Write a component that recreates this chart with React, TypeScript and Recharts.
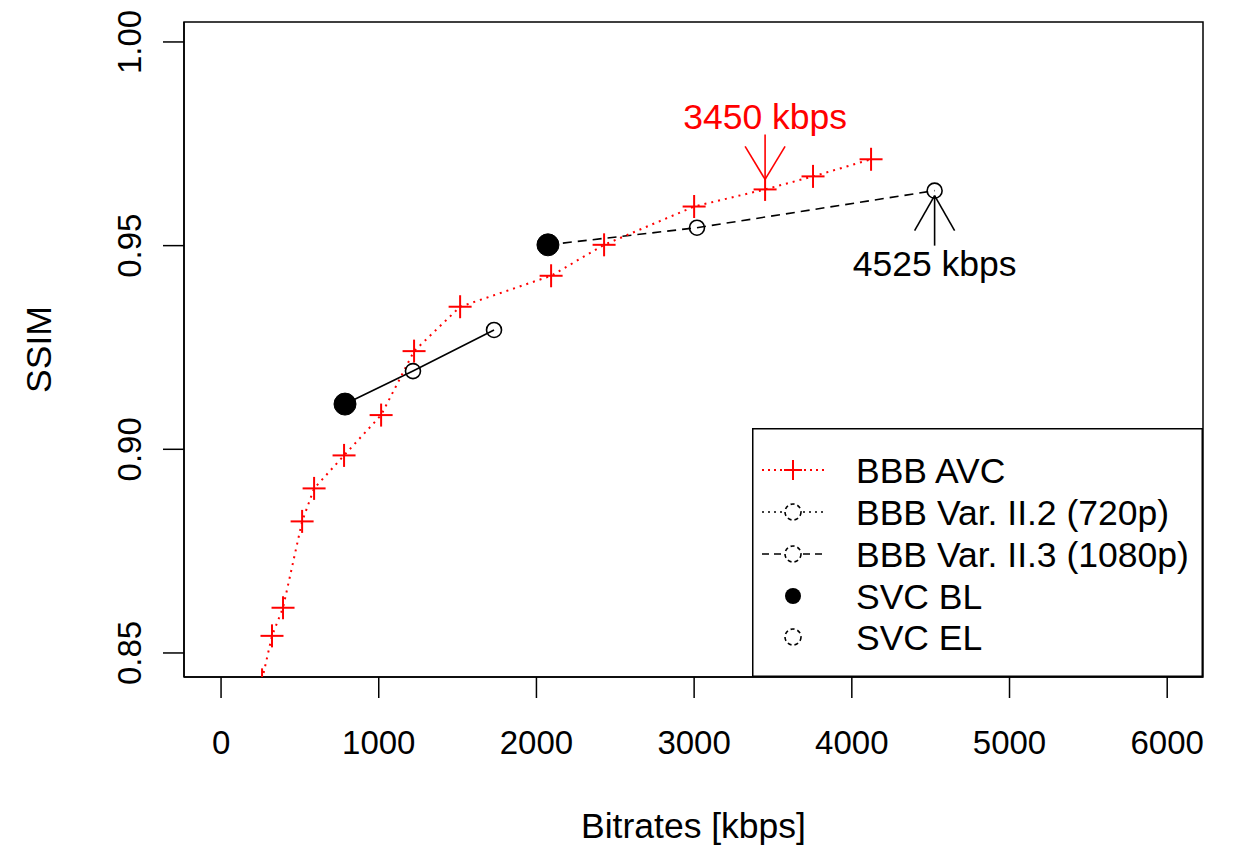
import React from 'react';
import { ComposedChart, Line, XAxis, YAxis, ReferenceDot, ReferenceArea, Legend, Label } from 'recharts';

// ---------- data ----------
const avcBitrates = [260, 323, 393, 514, 590, 780, 1015, 1224, 1516, 2093, 2429, 3000, 3450, 3754, 4122];
const avcSsim = [0.8434, 0.8542, 0.8611, 0.8823, 0.8904, 0.8985, 0.9084, 0.9241, 0.935, 0.9426, 0.9502, 0.9596, 0.9638, 0.967, 0.9712];

const var720Bitrates = [786, 1217, 1731];
const var720Ssim = [0.9111, 0.9192, 0.9293];

const var1080Bitrates = [2073, 3018, 4525];
const var1080Ssim = [0.9502, 0.9544, 0.9635];

const svcBlBitrates = [786, 2073];
const svcBlSsim = [0.9111, 0.9502];

const svcElBitrates = [1217, 1731, 3018, 4525];
const svcElSsim = [0.9192, 0.9293, 0.9544, 0.9635];

const xTicks = [0, 1000, 2000, 3000, 4000, 5000, 6000];
const yTicks = [0.85, 0.9, 0.95, 1.0];
const yTickLabels = ['0.85', '0.90', '0.95', '1.00'];

const legendLabels = ['BBB AVC', 'BBB Var. II.2 (720p)', 'BBB Var. II.3 (1080p)', 'SVC BL', 'SVC EL'];

const annotations = [
  { x: 3450, y: 0.9638, text: '3450 kbps', color: '#ff0000', side: 'above' },
  { x: 4525, y: 0.9635, text: '4525 kbps', color: '#000000', side: 'below' },
];

const X_DOMAIN: [number, number] = [-235, 6227];
const Y_DOMAIN: [number, number] = [0.8441, 1.0049];

const zip = (xs: number[], ys: number[]) => xs.map((x, i) => ({ x, y: ys[i] }));
const avcData = zip(avcBitrates, avcSsim);
const var720Data = zip(var720Bitrates, var720Ssim);
const var1080Data = zip(var1080Bitrates, var1080Ssim);
const svcBlData = zip(svcBlBitrates, svcBlSsim);
const svcElData = zip(svcElBitrates, svcElSsim);

// ---------- style ----------
const FONT = '"Liberation Sans", Arial, Helvetica, sans-serif';
const FS_TICK = 33;
const FS = 35.5;
const RED = '#ff0000';

const CrossDot = (props: any) => {
  const { cx, cy, index } = props;
  if (cx == null || cy == null) return <g key={`c${index}`} />;
  const a = 11.5;
  return (
    <g key={`c${index}`}>
      <line x1={cx - a} y1={cy} x2={cx + a} y2={cy} stroke={RED} strokeWidth={2} />
      <line x1={cx} y1={cy - a} x2={cx} y2={cy + a} stroke={RED} strokeWidth={2} />
    </g>
  );
};

const BlDot = (props: any) => {
  const { cx, cy, index } = props;
  if (cx == null || cy == null) return <g key={`b${index}`} />;
  return <circle key={`b${index}`} cx={cx} cy={cy} r={11} fill="#000" stroke="#000" strokeWidth={1} />;
};

const ElDot = (props: any) => {
  const { cx, cy, index } = props;
  if (cx == null || cy == null) return <g key={`e${index}`} />;
  return <circle key={`e${index}`} cx={cx} cy={cy} r={7.5} fill="none" stroke="#000" strokeWidth={1.6} />;
};

const YTick = (props: any) => {
  const { y, payload } = props;
  const i = yTicks.indexOf(payload.value);
  const label = i >= 0 ? yTickLabels[i] : String(payload.value);
  const bx = 141;
  return (
    <text x={bx} y={y} transform={`rotate(-90 ${bx} ${y})`} textAnchor="middle" fontSize={FS_TICK} fontFamily={FONT} fill="#000">
      {label}
    </text>
  );
};

const AnnotationShape = (ann: any) => (props: any) => {
  const { cx, cy } = props;
  if (cx == null || cy == null) return <g />;
  const above = ann.side === 'above';
  const s = above ? -1 : 1;
  const tip = cy + s * (above ? 10 : 5);
  const tail = cy + s * 55;
  const head = cy + s * (above ? 43 : 40);
  const textY = above ? cy - 60 : cy + 85;
  return (
    <g>
      <line x1={cx} y1={tip} x2={cx} y2={tail} stroke={ann.color} strokeWidth={1.6} />
      <line x1={cx} y1={tip} x2={cx - 20} y2={head} stroke={ann.color} strokeWidth={1.6} />
      <line x1={cx} y1={tip} x2={cx + 20} y2={head} stroke={ann.color} strokeWidth={1.6} />
      <text x={cx} y={textY} textAnchor="middle" fontSize={FS} fontFamily={FONT} fill={ann.color}>
        {ann.text}
      </text>
    </g>
  );
};

const LegendBox = () => {
  const rows = [42, 84, 126, 168, 209];
  const sx = 41;
  return (
    <svg width={451} height={249} style={{ display: 'block' }}>
      <rect x={0.75} y={0.75} width={449.5} height={247.5} fill="#fff" stroke="#000" strokeWidth={1.5} />
      {/* AVC */}
      <line x1={10} y1={rows[0]} x2={72} y2={rows[0]} stroke={RED} strokeWidth={2} strokeDasharray="2 4" />
      <line x1={sx - 9} y1={rows[0]} x2={sx + 9} y2={rows[0]} stroke={RED} strokeWidth={2} />
      <line x1={sx} y1={rows[0] - 10} x2={sx} y2={rows[0] + 10} stroke={RED} strokeWidth={2} />
      {/* Var II.2 */}
      <line x1={10} y1={rows[1]} x2={31} y2={rows[1]} stroke="#000" strokeWidth={1.6} strokeDasharray="2 4" />
      <line x1={51} y1={rows[1]} x2={72} y2={rows[1]} stroke="#000" strokeWidth={1.6} strokeDasharray="2 4" />
      <circle cx={sx} cy={rows[1]} r={8} fill="none" stroke="#000" strokeWidth={1.6} strokeDasharray="4 3" />
      {/* Var II.3 */}
      <line x1={10} y1={rows[2]} x2={31} y2={rows[2]} stroke="#000" strokeWidth={1.6} strokeDasharray="7 5" />
      <line x1={51} y1={rows[2]} x2={72} y2={rows[2]} stroke="#000" strokeWidth={1.6} strokeDasharray="7 5" />
      <circle cx={sx} cy={rows[2]} r={8} fill="none" stroke="#000" strokeWidth={1.6} strokeDasharray="4 3" />
      {/* SVC BL */}
      <circle cx={sx} cy={rows[3]} r={8} fill="#000" />
      {/* SVC EL */}
      <circle cx={sx} cy={rows[4]} r={8} fill="none" stroke="#000" strokeWidth={1.6} strokeDasharray="4 3" />
      {legendLabels.map((t, i) => (
        <text key={t} x={104} y={rows[i] + 13} fontSize={FS} fontFamily={FONT} fill="#000">
          {t}
        </text>
      ))}
    </svg>
  );
};

export default function App() {
  return (
    <div style={{ position: 'absolute', left: 0, top: 0, background: '#fff' }}>
      <ComposedChart width={1236} height={849} margin={{ top: 22, right: 33, left: 0, bottom: 0 }}>
        <XAxis
          type="number"
          dataKey="x"
          domain={X_DOMAIN}
          allowDataOverflow
          ticks={xTicks}
          interval={0}
          height={172}
          tickSize={21}
          tickMargin={33}
          axisLine={{ stroke: '#000', strokeWidth: 1.5 }}
          tickLine={{ stroke: '#000', strokeWidth: 1.5 }}
          tick={{ fill: '#000', fontSize: FS_TICK, fontFamily: FONT }}
        >
          <Label
            content={(p: any) => {
              const vb = p.viewBox;
              return (
                <text x={vb.x + vb.width / 2} y={vb.y + 161} textAnchor="middle" fontSize={FS} fontFamily={FONT} fill="#000">
                  Bitrates [kbps]
                </text>
              );
            }}
          />
        </XAxis>
        <YAxis
          type="number"
          dataKey="y"
          domain={Y_DOMAIN}
          allowDataOverflow
          ticks={yTicks}
          interval={0}
          width={184}
          tickSize={21}
          axisLine={{ stroke: '#000', strokeWidth: 1.5 }}
          tickLine={{ stroke: '#000', strokeWidth: 1.5 }}
          tick={<YTick />}
        >
          <Label
            content={(p: any) => {
              const vb = p.viewBox;
              const cy = vb.y + vb.height / 2;
              return (
                <text x={51} y={cy} transform={`rotate(-90 51 ${cy})`} textAnchor="middle" fontSize={FS} fontFamily={FONT} fill="#000">
                  SSIM
                </text>
              );
            }}
          />
        </YAxis>

        <ReferenceArea
          x1={X_DOMAIN[0]}
          x2={X_DOMAIN[1]}
          y1={Y_DOMAIN[0]}
          y2={Y_DOMAIN[1]}
          fill="none"
          fillOpacity={0}
          stroke="#000"
          strokeWidth={1.5}
          ifOverflow="visible"
        />

        <Line data={var720Data} dataKey="y" stroke="#000" strokeWidth={1.6} dot={false} activeDot={false} isAnimationActive={false} legendType="none" />
        <Line data={var1080Data} dataKey="y" stroke="#000" strokeWidth={1.6} strokeDasharray="9 6" dot={false} activeDot={false} isAnimationActive={false} legendType="none" />
        <Line data={avcData} dataKey="y" stroke={RED} strokeWidth={2} strokeDasharray="2 5" dot={<CrossDot />} activeDot={false} isAnimationActive={false} legendType="none" />
        <Line data={svcElData} dataKey="y" stroke="none" dot={<ElDot />} activeDot={false} isAnimationActive={false} legendType="none" />
        <Line data={svcBlData} dataKey="y" stroke="none" dot={<BlDot />} activeDot={false} isAnimationActive={false} legendType="none" />

        {annotations.map((a) => (
          <ReferenceDot key={a.text} x={a.x} y={a.y} r={0} shape={AnnotationShape(a)} ifOverflow="visible" />
        ))}

        <Legend
          layout="vertical"
          align="center"
          verticalAlign="middle"
          wrapperStyle={{ left: 752, top: 428, width: 451, height: 249 }}
          content={() => <LegendBox />}
        />
      </ComposedChart>
    </div>
  );
}
